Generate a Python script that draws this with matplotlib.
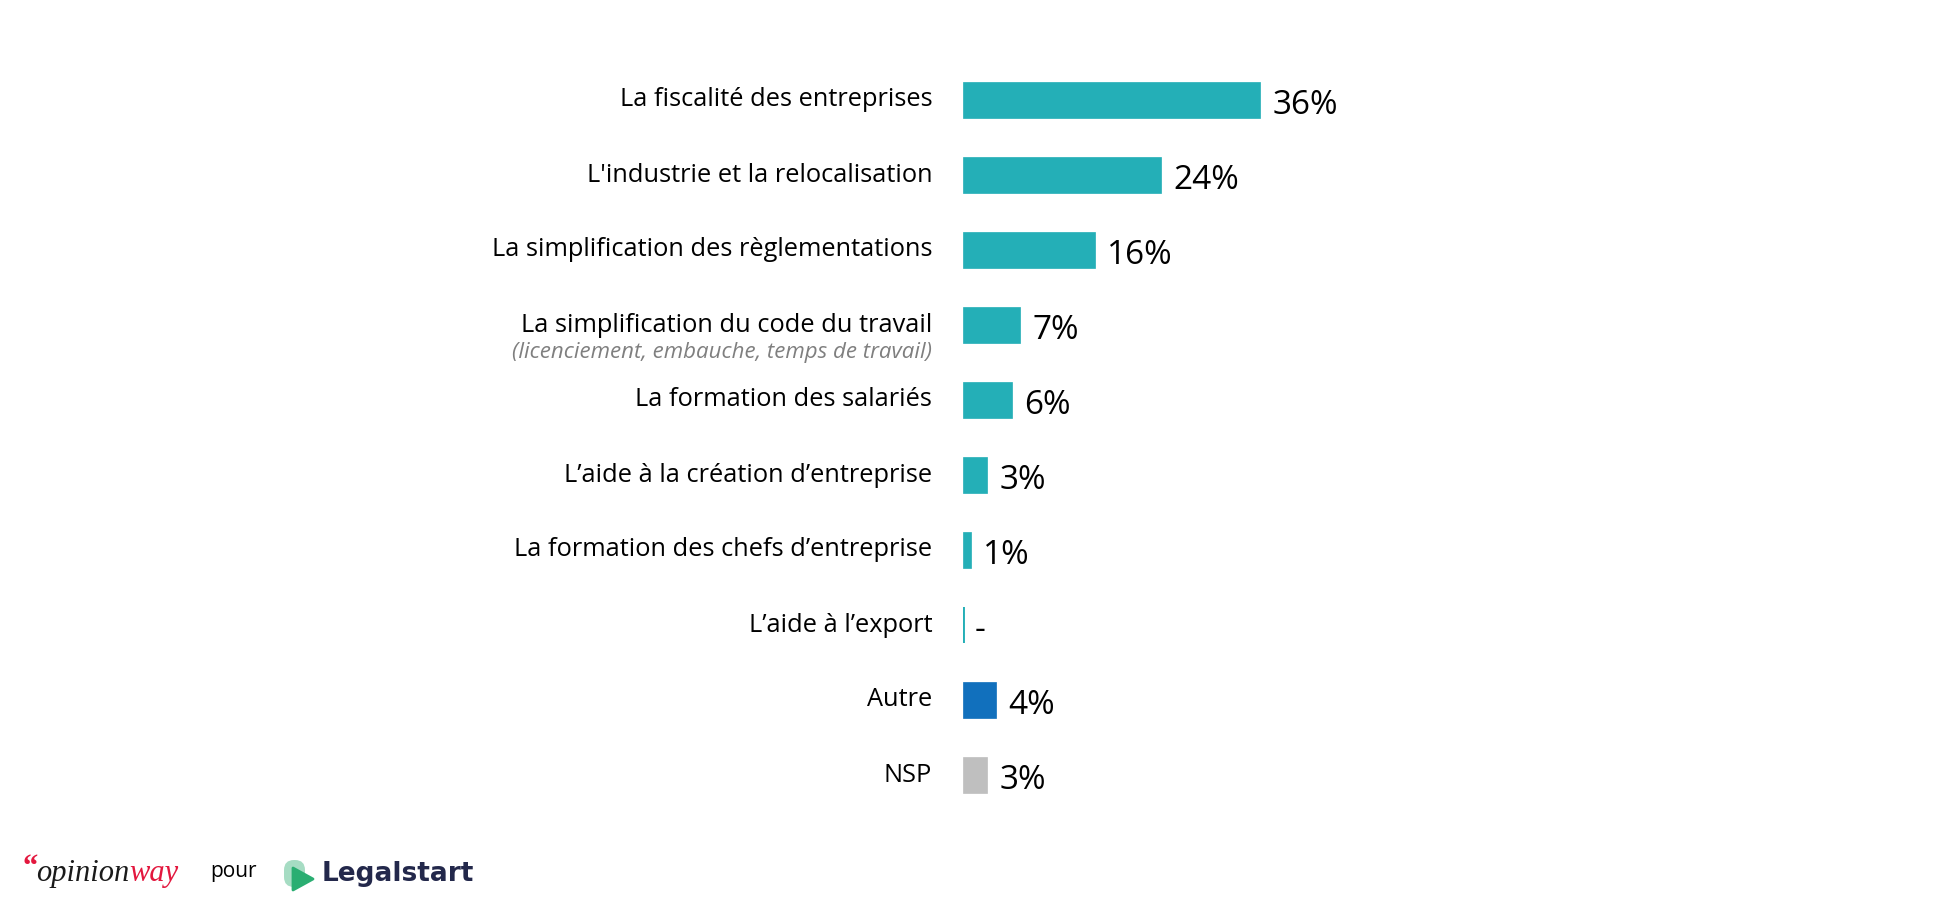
import matplotlib.pyplot as plt
import matplotlib.patches as mpatches
import numpy as np

# data
categories = ["La fiscalité des entreprises",
              "L'industrie et la relocalisation",
              "La simplification des règlementations",
              "La simplification du code du travail",
              "La formation des salariés",
              "L’aide à la création d’entreprise",
              "La formation des chefs d’entreprise",
              "L’aide à l’export",
              "Autre",
              "NSP"]
subtitles = ["", "", "", "(licenciement, embauche, temps de travail)", "", "", "", "", "", ""]
values = [36, 24, 16, 7, 6, 3, 1, 0, 4, 3]
value_labels = ["36%", "24%", "16%", "7%", "6%", "3%", "1%", "-", "4%", "3%"]

TEAL = "#24AFB7"
BLUE = "#1170BD"
GREY = "#BFBFBF"
colors = [TEAL] * 8 + [BLUE, GREY]

W, H = 1954, 898
plt.rcParams['font.family'] = ['Open Sans', 'DejaVu Sans']

fig = plt.figure(figsize=(W / 100, H / 100), dpi=100)
# axes: x 962.7px -> 0%, 8.25 px per %, rows 75 px apart, first row centred at y=100px
ax = fig.add_axes([962.7 / W, 1 - 812.5 / H, 825 / W, 750 / H])
ax.set_xlim(0, 100)
ax.set_ylim(len(values) - 0.5, -0.5)
ax.axis('off')

y = np.arange(len(values))
lws = [0.5 if v > 0 else 2.8 for v in values]  # the 0 bar still shows as a thin line
ax.barh(y, values, height=0.49, color=colors, edgecolor=colors, linewidth=lws)

for i, (cat, sub, v, lab) in enumerate(zip(categories, subtitles, values, value_labels)):
    ax.text(-3.7, i, cat, ha='right', va='center', fontsize=18.3, color='black')
    if sub:
        ax.text(-3.7, i + 0.37, sub, ha='right', va='center', fontsize=16,
                style='italic', color='#7F7F7F')
    ax.text(v + 1.5, i + 0.07, lab, ha='left', va='center', fontsize=24, color='black')

# footer logos
def fx(px):
    return px / W

def fy(py):
    return 1 - py / H

fig.text(fx(22), fy(868), "“", fontsize=22, color='#E3173E', family='Liberation Serif',
         weight='bold', va='center', ha='left')
op = fig.text(fx(36), fy(881), "opinion", fontsize=22, color='#1a1a1a', family='Liberation Serif',
              style='italic', va='baseline', ha='left')
fig.add_artist(plt.Annotation("way", xy=(1, 0), xycoords=op, va='bottom', ha='left',
                              fontsize=22, color='#E3173E', family='Liberation Serif',
                              style='italic'))
fig.text(fx(210), fy(872), "pour", fontsize=15, color='black', va='center', ha='left')

# Legalstart icon, drawn in a small pixel-unit axes
lax = fig.add_axes([283 / W, 1 - 892 / H, 32 / W, 34 / H])
lax.set_xlim(0, 32)
lax.set_ylim(0, 34)
lax.axis('off')
lax.add_patch(mpatches.FancyBboxPatch((1, 5), 21, 27, boxstyle="round,pad=0,rounding_size=10",
                                      facecolor='#A6DCC3', edgecolor='none'))
lax.add_patch(mpatches.Polygon([(10, 2), (10, 24), (30, 13)], closed=True,
                               facecolor='#2AAE72', edgecolor='#2AAE72', linewidth=2,
                               joinstyle='round'))
fig.text(fx(322), fy(881), "Legalstart", fontsize=19, weight='bold', color='#23284B',
         family='DejaVu Sans', va='baseline', ha='left')

fig.savefig("out.png", dpi=100, facecolor='white')
